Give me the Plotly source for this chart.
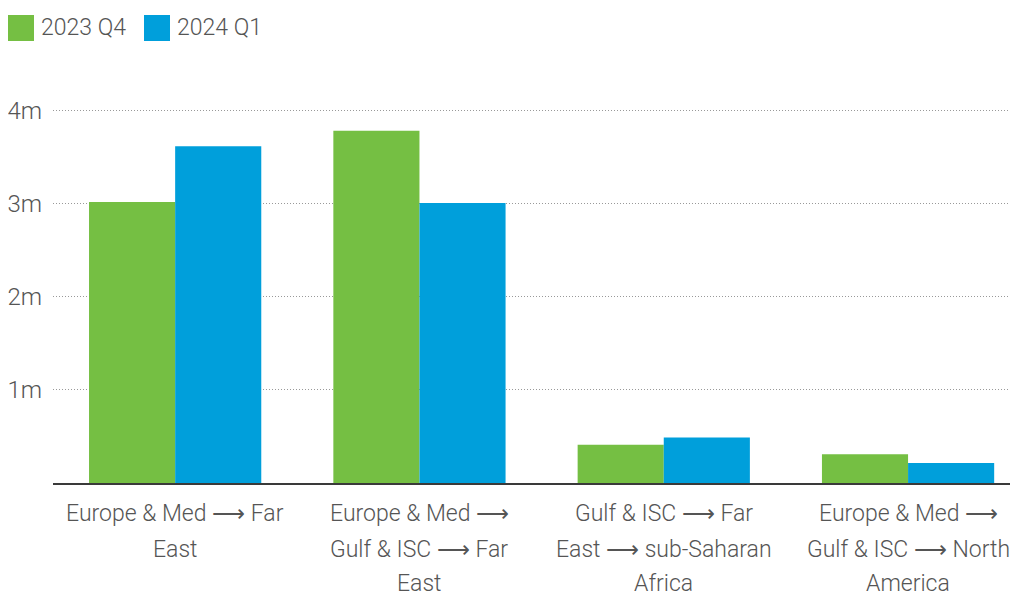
import plotly.graph_objects as go

categories = [
    "Europe & Med ⟶ Far<br>East",
    "Europe & Med ⟶<br>Gulf & ISC ⟶ Far<br>East",
    "Gulf & ISC ⟶ Far<br>East ⟶ sub-Saharan<br>Africa",
    "Europe & Med ⟶<br>Gulf & ISC ⟶ North<br>America",
]
series_names = ["2023 Q4", "2024 Q1"]
q4_2023 = [3.02, 3.785, 0.41, 0.31]
q1_2024 = [3.62, 3.01, 0.49, 0.215]
tick_vals = [1, 2, 3, 4]
tick_text = ["1m", "2m", "3m", "4m"]

GREEN = "#75BF43"
BLUE = "#009FDB"
TEXT = "#555555"
FONT = "Roboto"

OFF = 8  # page body margin
W, H = 1018 - OFF, 596 - OFF
L, R, T, B = 53 - OFF, 0, 108 - OFF, 113
YMAX = 4.03

x_idx = list(range(len(categories)))

fig = go.Figure()
fig.add_trace(go.Bar(x=x_idx, y=q4_2023, name=series_names[0], marker_color=GREEN,
                     marker_line_width=0, showlegend=False))
fig.add_trace(go.Bar(x=x_idx, y=q1_2024, name=series_names[1], marker_color=BLUE,
                     marker_line_width=0, showlegend=False))

def px_x(x):
    return (x - OFF - L) / (W - L - R)

def px_y(y):
    return (H - B - (y - OFF)) / (H - T - B)

# legend drawn as shapes + text
legend_items = [(8, GREEN, series_names[0]), (144, BLUE, series_names[1])]
for x0, col, name in legend_items:
    fig.add_shape(type="rect", xref="paper", yref="paper",
                  x0=px_x(x0), x1=px_x(x0 + 26), y0=px_y(41), y1=px_y(15),
                  fillcolor=col, line_width=0)
    fig.add_annotation(xref="paper", yref="paper", x=px_x(x0 + 31), y=px_y(28),
                       text=name, showarrow=False, xanchor="left", yanchor="middle",
                       font=dict(family=FONT, size=23, color=TEXT, weight=300))

# category labels, one annotation per line for wider line spacing
LINE_Y = [513, 549, 583]
for i, label in enumerate(categories):
    for j, line in enumerate(label.split("<br>")):
        fig.add_annotation(xref="x", yref="paper", x=x_idx[i], y=px_y(LINE_Y[j]),
                           text=line, showarrow=False, xanchor="center", yanchor="middle",
                           font=dict(family=FONT, size=23, color=TEXT, weight=300))

fig.update_layout(
    width=W, height=H,
    margin=dict(l=L, r=R, t=T, b=B, pad=0),
    paper_bgcolor="white", plot_bgcolor="white",
    barmode="group", bargap=0.295, bargroupgap=0,
    font=dict(family=FONT, color=TEXT, size=23, weight=300),
    xaxis=dict(
        tickmode="array", tickvals=x_idx, showticklabels=False,
        range=[-0.5, 3.45], showgrid=False, showline=True, automargin=False,
        linecolor="#3a3a3a", linewidth=2, ticks="", zeroline=False,
    ),
    yaxis=dict(
        range=[0, YMAX], tickmode="array", tickvals=tick_vals, ticktext=tick_text,
        showgrid=True, gridcolor="#999999", griddash="1px,2px", gridwidth=1,
        zeroline=False, showline=False, ticks="", ticklabelstandoff=10, automargin=False,
        tickfont=dict(family=FONT, size=24, color=TEXT, weight=300),
    ),
)

fig.write_html("out.html")
